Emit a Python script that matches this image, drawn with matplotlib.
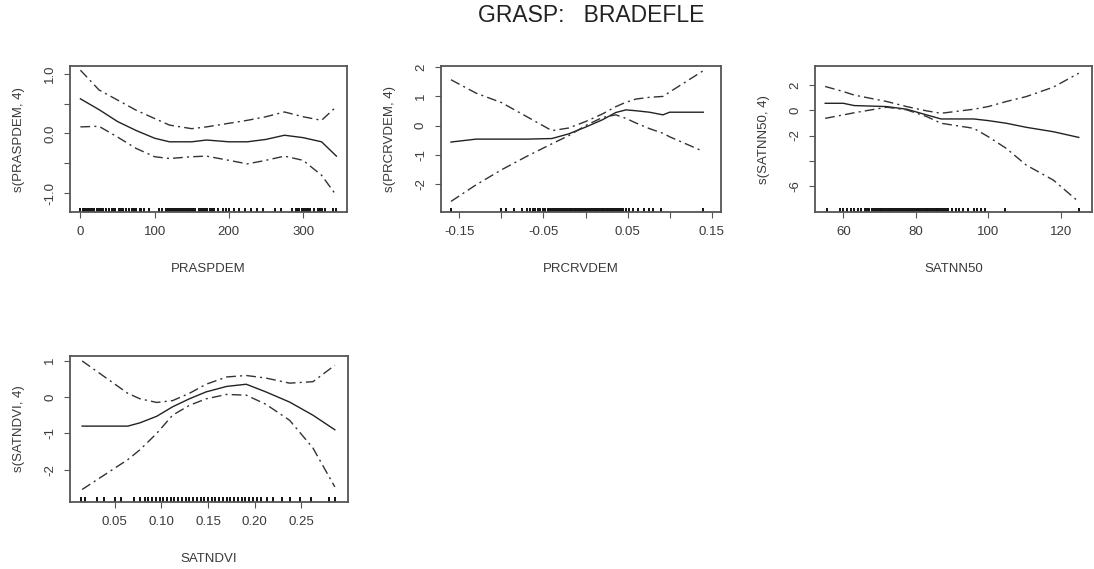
import matplotlib.pyplot as plt

plt.rcParams['font.family'] = ['Liberation Sans', 'DejaVu Sans']
plt.rcParams['axes.unicode_minus'] = False

TXT = '#3a3a3a'

# PRASPDEM panel
p1_x = [0, 25, 50, 75, 100, 120, 150, 170, 200, 225, 250, 275, 300, 325, 345]
p1_fit = [0.58, 0.40, 0.20, 0.05, -0.08, -0.14, -0.14, -0.11, -0.14, -0.14, -0.10, -0.03, -0.07, -0.14, -0.38]
p1_up = [1.06, 0.73, 0.56, 0.39, 0.25, 0.14, 0.08, 0.11, 0.17, 0.22, 0.28, 0.36, 0.28, 0.22, 0.45]
p1_lo = [0.11, 0.12, -0.06, -0.25, -0.39, -0.42, -0.39, -0.38, -0.45, -0.51, -0.45, -0.38, -0.45, -0.70, -1.04]
p1_rug = [0, 3, 5, 8, 10, 13, 16, 18, 22, 25, 28, 30, 34, 38, 42, 45, 47, 52, 55, 57, 61,
          66, 70, 72, 75, 80, 82, 86, 92, 106, 110, 115, 118, 120, 122, 124, 126, 128,
          130, 132, 134, 136, 138, 140, 142, 144, 146, 148, 150, 152, 155, 160, 163,
          165, 168, 170, 175, 178, 180, 186, 192, 196, 200, 207, 214, 222, 230, 238,
          246, 262, 270, 285, 290, 292, 295, 298, 300, 303, 305, 307, 310, 315, 320,
          323, 325, 330, 340, 345]

# PRCRVDEM panel
p2_x = [-0.16, -0.13, -0.10, -0.07, -0.04, -0.02, 0.0, 0.02, 0.036, 0.048, 0.06, 0.076, 0.092, 0.10, 0.14]
p2_fit = [-0.56, -0.46, -0.46, -0.46, -0.44, -0.28, -0.05, 0.20, 0.45, 0.54, 0.51, 0.46, 0.37, 0.46, 0.46]
p2_up = [1.57, 1.11, 0.79, 0.31, -0.17, -0.08, 0.14, 0.40, 0.65, 0.80, 0.91, 0.97, 1.00, 1.15, 1.88]
p2_lo = [-2.59, -2.02, -1.51, -1.05, -0.62, -0.34, 0.0, 0.28, 0.37, 0.25, 0.09, -0.10, -0.26, -0.38, -0.88]
p2_rug = [-0.16, -0.10, -0.095, -0.085, -0.075, -0.070, -0.066, -0.063, -0.06, -0.057,
          -0.054, -0.051, -0.048, -0.045, -0.043, -0.041, -0.039, -0.037, -0.035, -0.033,
          -0.031, -0.029, -0.027, -0.025, -0.023, -0.021, -0.019, -0.017, -0.015, -0.013,
          -0.011, -0.009, -0.007, -0.005, -0.003, -0.001, 0.001, 0.003, 0.005, 0.007,
          0.009, 0.011, 0.013, 0.015, 0.017, 0.019, 0.021, 0.023, 0.025, 0.027, 0.029,
          0.031, 0.033, 0.035, 0.037, 0.039, 0.041, 0.043, 0.045, 0.048, 0.052, 0.056,
          0.062, 0.07, 0.076, 0.08, 0.09, 0.14]

# SATNN50 panel
p3_x = [55, 60, 63, 72, 77.5, 83, 87, 96, 100, 105, 110.5, 118, 125]
p3_fit = [0.55, 0.55, 0.37, 0.29, 0.08, -0.37, -0.69, -0.69, -0.82, -1.03, -1.35, -1.70, -2.15]
p3_up = [1.88, 1.48, 1.20, 0.69, 0.29, -0.05, -0.24, 0.08, 0.29, 0.69, 1.08, 1.83, 2.93]
p3_lo = [-0.64, -0.37, -0.20, 0.24, 0.03, -0.50, -1.03, -1.43, -2.09, -3.02, -4.34, -5.53, -7.25]
p3_rug = [55.5, 59, 60, 61, 62, 63, 64, 65, 66, 66.5, 67, 68, 68.5, 69, 69.5, 70, 70.5,
          71, 71.5, 72, 72.5, 73, 73.5, 74, 74.5, 75, 75.5, 76, 76.5, 77, 77.5, 78,
          78.5, 79, 79.5, 80, 80.5, 81, 81.5, 82, 82.5, 83, 83.5, 84, 84.5, 85, 85.5,
          86, 86.5, 87, 87.5, 88, 88.5, 89, 90, 91, 92, 93, 94.5, 96, 97, 98, 99,
          104.5, 125]

# SATNDVI panel
p4_x = [0.015, 0.064, 0.077, 0.095, 0.112, 0.13, 0.148, 0.17, 0.191, 0.212, 0.2375, 0.2625, 0.286]
p4_fit = [-0.80, -0.80, -0.71, -0.53, -0.27, -0.05, 0.14, 0.29, 0.35, 0.14, -0.14, -0.50, -0.90]
p4_up = [0.99, 0.10, -0.05, -0.15, -0.10, 0.10, 0.35, 0.55, 0.59, 0.52, 0.38, 0.42, 0.87]
p4_lo = [-2.54, -1.72, -1.45, -1.00, -0.50, -0.23, -0.05, 0.07, 0.05, -0.20, -0.64, -1.40, -2.47]
p4_rug = [0.014, 0.018, 0.031, 0.038, 0.05, 0.057, 0.071, 0.077, 0.082, 0.086, 0.09,
          0.094, 0.098, 0.102, 0.106, 0.11, 0.114, 0.118, 0.122, 0.126, 0.13, 0.134,
          0.138, 0.142, 0.146, 0.15, 0.154, 0.158, 0.162, 0.166, 0.17, 0.174, 0.178,
          0.182, 0.186, 0.19, 0.194, 0.198, 0.202, 0.207, 0.213, 0.22, 0.229, 0.238,
          0.249, 0.26, 0.28, 0.286]

panels = [
    ([0.064, 0.627, 0.253, 0.257], p1_x, p1_fit, p1_up, p1_lo, p1_rug, 'PRASPDEM', 's(PRASPDEM, 4)',
     (-14, 359), (-1.32, 1.13), [0, 100, 200, 300], ['0', '100', '200', '300'],
     [-1.0, -0.5, 0.0, 0.5, 1.0], ['-1.0', '', '0.0', '', '1.0']),
    ([0.403, 0.627, 0.256, 0.257], p2_x, p2_fit, p2_up, p2_lo, p2_rug, 'PRCRVDEM', 's(PRCRVDEM, 4)',
     (-0.172, 0.161), (-2.96, 2.04), [-0.15, -0.10, -0.05, 0.0, 0.05, 0.10, 0.15],
     ['-0.15', '', '-0.05', '', '0.05', '', '0.15'],
     [-2, -1, 0, 1, 2], ['-2', '-1', '0', '1', '2']),
    ([0.745, 0.627, 0.253, 0.257], p3_x, p3_fit, p3_up, p3_lo, p3_rug, 'SATNN50', 's(SATNN50, 4)',
     (52.2, 128.6), (-8.07, 3.5), [60, 80, 100, 120], ['60', '80', '100', '120'],
     [-6, -4, -2, 0, 2], ['-6', '', '-2', '0', '2']),
    ([0.064, 0.118, 0.254, 0.256], p4_x, p4_fit, p4_up, p4_lo, p4_rug, 'SATNDVI', 's(SATNDVI, 4)',
     (0.002, 0.300), (-2.88, 1.12), [0.05, 0.10, 0.15, 0.20, 0.25],
     ['0.05', '0.10', '0.15', '0.20', '0.25'],
     [-2, -1, 0, 1], ['-2', '-1', '0', '1']),
]

fig = plt.figure(figsize=(10.94, 5.69), dpi=100)
fig.text(0.54, 0.972, 'GRASP:   BRADEFLE', ha='center', va='center', fontsize=16.5, color='#222222')

for rect, x, fit, up, lo, rug, xlab, ylab, xl, yl, xt, xtl, yt, ytl in panels:
    ax = fig.add_axes(rect)
    ax.plot(x, fit, color='#222222', lw=1.0)
    ax.plot(x, up, color='#333333', lw=1.0, linestyle=(0, (7, 3, 1.5, 3)))
    ax.plot(x, lo, color='#333333', lw=1.0, linestyle=(0, (7, 3, 1.5, 3)))
    # rug along the bottom
    ax.vlines(rug, 0, 0.03, transform=ax.get_xaxis_transform(), color='#111111', lw=1.4)
    ax.set_xlim(*xl)
    ax.set_ylim(*yl)
    ax.set_xticks(xt)
    ax.set_xticklabels(xtl)
    ax.set_yticks(yt)
    ax.set_yticklabels(ytl, rotation=90, va='center')
    ax.tick_params(direction='out', length=4, width=0.8, colors='#555555', labelcolor=TXT,
                   labelsize=9.5, pad=6)
    ax.set_xlabel(xlab, fontsize=9.5, color=TXT, labelpad=18)
    ax.set_ylabel(ylab, fontsize=9.5, color=TXT, labelpad=14)
    for s in ax.spines.values():
        s.set_color('#555555')
        s.set_linewidth(1.3)

fig.savefig('out.png', dpi=100)
